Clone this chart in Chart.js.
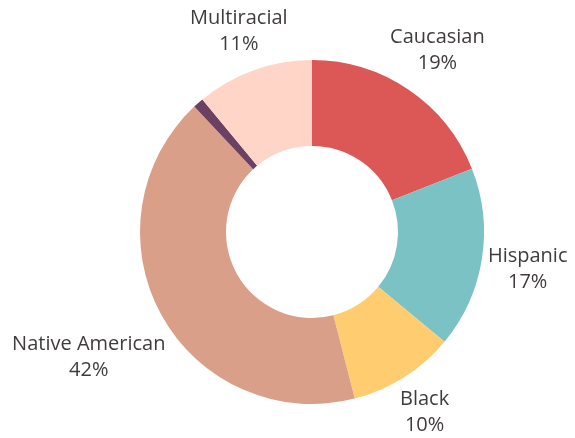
<!DOCTYPE html>
<html>
<head>
<meta charset="utf-8">
<script src="https://cdn.jsdelivr.net/npm/chart.js@4.4.0/dist/chart.umd.min.js"></script>
<style>
  html, body { margin: 0; padding: 0; background: #fff; }
  #wrap { width: 575px; height: 438px; }
</style>
</head>
<body>
<div id="wrap"><canvas id="raceChart" width="575" height="438"></canvas></div>
<script>
const labels = ["Caucasian", "Hispanic", "Black", "Native American", "Other", "Multiracial"];
const values = [19, 17, 10, 42, 1, 11];
const colors = ["#db5856", "#7ac2c4", "#ffcd70", "#d99f88", "#6b4062", "#ffd5c8"];
const showLabel = [true, true, true, true, false, true];

// draws "Name\nNN%" outside each slice
const outsideLabels = {
  id: "outsideLabels",
  afterDraw(chart) {
    const ctx = chart.ctx;
    const meta = chart.getDatasetMeta(0);
    const total = values.reduce((a, b) => a + b, 0);
    ctx.save();
    ctx.font = "20px 'Open Sans'";
    ctx.fillStyle = "#403c3e";
    ctx.textAlign = "center";
    ctx.textBaseline = "middle";
    const lineH = 26;
    meta.data.forEach((arc, i) => {
      if (!showLabel[i]) return;
      const p = arc.getProps(["x", "y", "startAngle", "endAngle", "outerRadius"], true);
      const mid = (p.startAngle + p.endAngle) / 2;
      const pct = Math.round(values[i] / total * 100) + "%";
      const w = Math.max(ctx.measureText(labels[i]).width, ctx.measureText(pct).width);
      const h = lineH * 2;
      const c = Math.cos(mid), s = Math.sin(mid);
      const ext = Math.abs(c) * w / 2 + Math.abs(s) * h / 2;
      const r = p.outerRadius + ext + 3;
      const cx = p.x + c * r;
      const cy = p.y + s * r + 3;
      ctx.fillText(labels[i], cx, cy - lineH / 2);
      ctx.fillText(pct, cx, cy + lineH / 2);
    });
    ctx.restore();
  }
};

new Chart(document.getElementById("raceChart"), {
  type: "doughnut",
  data: {
    labels: labels,
    datasets: [{
      data: values,
      backgroundColor: colors,
      borderWidth: 0
    }]
  },
  options: {
    responsive: false,
    animation: false,
    cutout: "50%",
    layout: { padding: { left: 140, right: 91, top: 60, bottom: 34 } },
    plugins: {
      legend: { display: false },
      tooltip: { enabled: false }
    }
  },
  plugins: [outsideLabels]
});
</script>
</body>
</html>
